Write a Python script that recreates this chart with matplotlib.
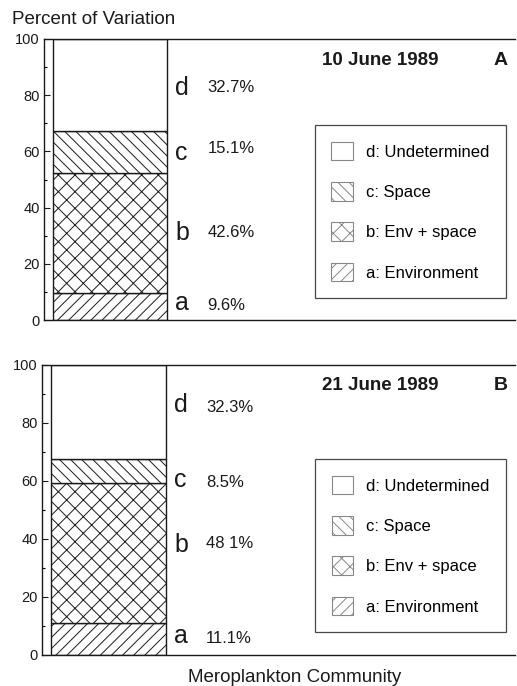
import matplotlib.pyplot as plt
from matplotlib.patches import Patch

plt.rcParams['font.family'] = ['Liberation Sans', 'DejaVu Sans']
plt.rcParams['hatch.linewidth'] = 0.7

# components of variation (%), bottom to top: a, b, c, d
letters = ['a', 'b', 'c', 'd']
pct_A = [9.6, 42.6, 15.1, 32.7]
pct_B = [11.1, 48.1, 8.5, 32.3]
pct_text_A = ['9.6%', '42.6%', '15.1%', '32.7%']
pct_text_B = ['11.1%', '48 1%', '8.5%', '32.3%']
legend_labels = ['d: Undetermined', 'c: Space', 'b: Env + space', 'a: Environment']
hatches = ['///', 'xx', '\\\\\\', '']
dates = ['10 June 1989', '21 June 1989']
panels = ['A', 'B']

# where the letters / percent labels sit (data units, baseline)
letter_y_A = [3.6, 28.5, 57, 80]
pct_y_A = [3.6, 29.5, 59.5, 81]
letter_y_B = [4.1, 35.5, 58, 83.8]
pct_y_B = [4.1, 37, 58, 83.8]

fig = plt.figure(figsize=(5.17, 6.86), dpi=100)
axA = fig.add_axes([44 / 517, 1 - 320 / 686, 471 / 517, 281 / 686])
axB = fig.add_axes([42 / 517, 1 - 655 / 686, 473 / 517, 290 / 686])

ink = '#1a1a1a'


def draw(ax, pcts, texts, letter_y, pct_y, date, panel, leg_box, title_y):
    bottom = 0
    for p, h in zip(pcts, hatches):
        ax.bar(0.02, p, width=0.242, bottom=bottom, align='edge',
               color='white', edgecolor=ink, linewidth=1.0, hatch=h)
        bottom += p
    for let, t, ly, py in zip(letters, texts, letter_y, pct_y):
        ax.text(0.279, ly, let, fontsize=18, va='baseline', ha='left', color=ink)
        ax.text(0.347, py, t, fontsize=12, va='baseline', ha='left', color=ink)
    ax.set_xlim(0, 1)
    ax.set_ylim(0, 100)
    ax.set_xticks([])
    ax.set_yticks(range(0, 101, 20))
    ax.set_yticks(range(10, 100, 20), minor=True)
    ax.tick_params(axis='y', direction='in', length=4.5, width=0.8, labelsize=10.5,
                   pad=3, colors=ink)
    ax.tick_params(axis='y', which='minor', direction='in', length=2, width=0.8)
    ax.spines['right'].set_visible(False)
    for s in ['left', 'top', 'bottom']:
        ax.spines[s].set_linewidth(1.0)
        ax.spines[s].set_color(ink)
    ax.text(0.838, title_y, date, transform=ax.transAxes, fontsize=13.5,
            fontweight='bold', ha='right', va='center', color=ink)
    ax.text(0.985, title_y, panel, transform=ax.transAxes, fontsize=14,
            fontweight='bold', ha='right', va='center', color=ink)
    handles = [Patch(facecolor='white', edgecolor='#888888', hatch=h, linewidth=0.8)
               for h in hatches[::-1]]
    leg = ax.legend(handles, legend_labels, loc='upper left', bbox_to_anchor=leg_box,
                    frameon=True, fancybox=False, fontsize=12, handlelength=1.3,
                    handleheight=1.35, labelspacing=1.3, borderpad=1.0,
                    handletextpad=0.75, borderaxespad=0)
    leg.get_frame().set_edgecolor(ink)
    leg.get_frame().set_linewidth(0.9)


draw(axA, pct_A, pct_text_A, letter_y_A, pct_y_A, dates[0], panels[0],
     (0.575, 0.694), 0.925)
draw(axB, pct_B, pct_text_B, letter_y_B, pct_y_B, dates[1], panels[1],
     (0.577, 0.676), 0.931)

fig.text(12 / 517, 1 - 19 / 686, 'Percent of Variation', fontsize=13.5,
         ha='left', va='center', color=ink)
fig.text(295 / 517, 1 - 678 / 686, 'Meroplankton Community', fontsize=13.5,
         ha='center', va='center', color=ink)

fig.savefig('out.png', dpi=100)
